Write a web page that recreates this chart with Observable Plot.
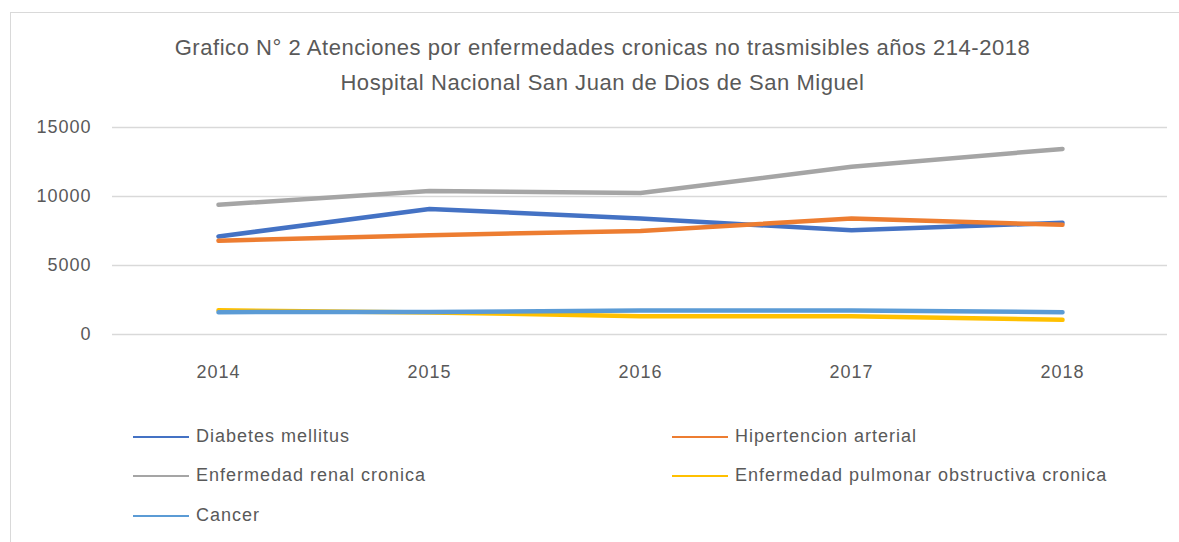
<!DOCTYPE html>
<html>
<head>
<meta charset="utf-8">
<script src="https://cdn.jsdelivr.net/npm/d3@7"></script>
<script src="https://cdn.jsdelivr.net/npm/@observablehq/plot@0.6"></script>
<style>
  html, body { margin: 0; padding: 0; background: #fff; width: 1179px; height: 542px; overflow: hidden; }
  body { font-family: "Liberation Sans", Arial, sans-serif; color: #595959; position: relative; }
  #frame { position: absolute; left: 10px; top: 12px; width: 1200px; height: 560px; border-top: 1px solid #d9d9d9; border-left: 1px solid #d9d9d9; }
  #title { position: absolute; left: 10px; width: 1185px; top: 30px; text-align: center; font-size: 22px; letter-spacing: 0.55px; line-height: 35px; color: #595959; }
  #chart { position: absolute; left: 0; top: 110px; }
  .leg { position: absolute; font-size: 18px; letter-spacing: 1px; color: #595959; white-space: nowrap; }
  .sw { position: absolute; height: 2px; width: 56px; }
</style>
</head>
<body>
<div id="frame"></div>
<div id="title">Grafico N° 2 Atenciones por enfermedades cronicas no trasmisibles años 214-2018<br>Hospital Nacional San Juan de Dios de San Miguel</div>
<div id="chart"></div>
<div id="legend"></div>
<script>
const years = ["2014", "2015", "2016", "2017", "2018"];
const seriesNames = ["Diabetes mellitus", "Hipertencion arterial", "Enfermedad renal cronica", "Enfermedad pulmonar obstructiva cronica", "Cancer"];
const seriesColors = ["#4472C4", "#ED7D31", "#A5A5A5", "#FFC000", "#5B9BD5"];
const diabetes = [7100, 9100, 8400, 7550, 8100];
const hipertension = [6800, 7200, 7500, 8400, 7950];
const renal = [9400, 10400, 10250, 12150, 13450];
const pulmonar = [1750, 1600, 1330, 1330, 1060];
const cancer = [1620, 1630, 1740, 1740, 1620];
const yTicks = [0, 5000, 10000, 15000];

const seriesValues = [diabetes, hipertension, renal, pulmonar, cancer];
const rows = [];
seriesNames.forEach((name, i) => {
  years.forEach((yr, j) => rows.push({serie: name, year: yr, value: seriesValues[i][j]}));
});

const plot = Plot.plot({
  width: 1179,
  height: 280,
  marginLeft: 112,
  marginRight: 12,
  marginTop: 17,
  marginBottom: 56,
  style: {fontFamily: "'Liberation Sans', Arial, sans-serif", fontSize: "18px", letterSpacing: "1px", color: "#595959", background: "transparent"},
  x: {type: "point", domain: years, padding: 0.5, label: null},
  y: {domain: [0, 15000], label: null},
  color: {domain: seriesNames, range: seriesColors},
  marks: [
    Plot.ruleY(yTicks, {stroke: "#d9d9d9", strokeWidth: 1.3}),
    Plot.axisY({ticks: yTicks, tickSize: 0, tickPadding: 21, tickFormat: d => String(d), label: null, fill: "#595959"}),
    Plot.axisX({tickSize: 0, tickPadding: 31, label: null, fill: "#595959"}),
    Plot.line(rows, {x: "year", y: "value", z: "serie", stroke: "serie", strokeWidth: 4.5, strokeLinecap: "round", strokeLinejoin: "round"})
  ]
});
document.getElementById("chart").appendChild(plot);

// legend
const legend = document.getElementById("legend");
const pos = [[133, 437], [672, 437], [133, 476], [672, 476], [133, 516]];
seriesNames.forEach((name, i) => {
  const [x, y] = pos[i];
  const sw = document.createElement("div");
  sw.className = "sw";
  sw.style.left = x + "px";
  sw.style.top = (y - 1) + "px";
  sw.style.background = seriesColors[i];
  legend.appendChild(sw);
  const t = document.createElement("div");
  t.className = "leg";
  t.style.left = (x + 63) + "px";
  t.style.top = (y - 11) + "px";
  t.textContent = name;
  legend.appendChild(t);
});
</script>
</body>
</html>
